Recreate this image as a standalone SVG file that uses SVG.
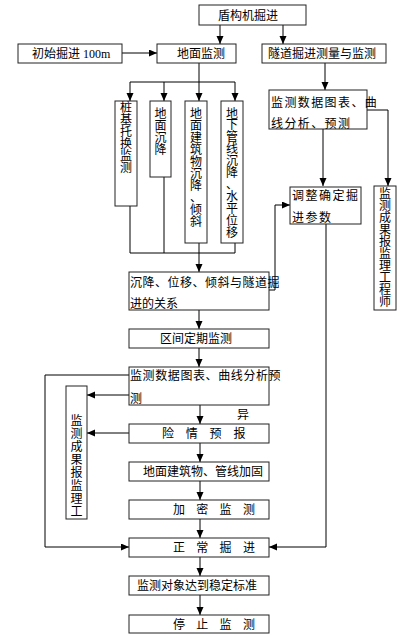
<svg xmlns="http://www.w3.org/2000/svg" width="408" height="642" viewBox="0 0 408 642">
<style>
.box{fill:#fff;stroke:#222;stroke-width:1}
.ln{fill:none;stroke:#000;stroke-width:1}
.arr{marker-end:url(#ah)}
text{font-family:"Liberation Serif","Noto Sans CJK SC",serif;font-size:12px;fill:#000}
.v{text-anchor:middle}
</style>
<defs>
<marker id="ah" markerUnits="userSpaceOnUse" markerWidth="8" markerHeight="8" refX="8" refY="3.5" orient="auto">
<path d="M0,0 L8,3.5 L0,7 z" fill="#000"/>
</marker>
</defs>
<rect width="408" height="642" fill="#fff"/>
<g id="connectors">
<path class="ln arr" d="M220,25 V44"/>
<path class="ln arr" d="M283,25 V44"/>
<path class="ln arr" d="M122,53 H157"/>
<path class="ln" d="M199,63 V82 M130,82 H235"/>
<path class="ln arr" d="M130,82 V101"/>
<path class="ln arr" d="M164,82 V101"/>
<path class="ln arr" d="M199,82 V101"/>
<path class="ln arr" d="M235,82 V101"/>
<path class="ln" d="M130,206 V253 M164,177 V253 M199,243 V253 M235,243 V253 M130,253 H235"/>
<path class="ln arr" d="M199,253 V272"/>
<path class="ln arr" d="M325,63 V90"/>
<path class="ln arr" d="M323,129 V186"/>
<path class="ln arr" d="M367,110 H388 V186"/>
<path class="ln arr" d="M269,290 H275 V205 H290"/>
<path class="ln arr" d="M326,224 V547 H269"/>
<path class="ln arr" d="M199,310 V329"/>
<path class="ln arr" d="M199,348 V367"/>
<path class="ln arr" d="M129,375 H45 V547 H129"/>
<path class="ln arr" d="M129,395 H87"/>
<path class="ln arr" d="M129,433 H87"/>
<path class="ln arr" d="M200,405 V424"/>
<path class="ln arr" d="M200,443 V462"/>
<path class="ln arr" d="M200,481 V500"/>
<path class="ln arr" d="M200,519 V538"/>
<path class="ln arr" d="M200,557 V576"/>
<path class="ln arr" d="M200,595 V615"/>
<text x="237" y="419">异</text>
</g>
<g id="n_dungou"><rect class="box" x="199" y="5" width="107" height="20"/><text x="218" y="19.5">盾构机掘进</text></g>
<g id="n_chushi"><rect class="box" x="18" y="44" width="104" height="19"/><text x="32" y="58">初始掘进 100m</text></g>
<g id="n_dimian"><rect class="box" x="157" y="44" width="79" height="19"/><text x="177" y="58">地面监测</text></g>
<g id="n_suidao"><rect class="box" x="262" y="44" width="124" height="19"/><text x="268" y="58">隧道掘进测量与监测</text></g>
<g id="n_zhuangji"><rect class="box" x="115" y="101" width="22" height="105"/>
<text class="v"><tspan x="126" y="111.5">桩</tspan><tspan x="126" y="123.5">基</tspan><tspan x="126" y="135.5">托</tspan><tspan x="126" y="147.5">换</tspan><tspan x="126" y="159.5">监</tspan><tspan x="126" y="171.5">测</tspan></text></g>
<g id="n_chenjiang"><rect class="box" x="150" y="101" width="21" height="76"/>
<text class="v"><tspan x="160.5" y="117.5">地</tspan><tspan x="160.5" y="129.8">面</tspan><tspan x="160.5" y="142.1">沉</tspan><tspan x="160.5" y="154.4">降</tspan></text></g>
<g id="n_jianzhu"><rect class="box" x="185" y="101" width="22" height="142"/>
<text class="v"><tspan x="196" y="117.5">地</tspan><tspan x="196" y="129.6">面</tspan><tspan x="196" y="141.7">建</tspan><tspan x="196" y="153.8">筑</tspan><tspan x="196" y="165.9">物</tspan><tspan x="196" y="178">沉</tspan><tspan x="196" y="190.1">降</tspan><tspan x="196" y="202.2">、</tspan><tspan x="196" y="214.3">倾</tspan><tspan x="196" y="226.4">斜</tspan></text></g>
<g id="n_guanxian"><rect class="box" x="221" y="101" width="22" height="142"/>
<text class="v"><tspan x="232" y="117.5">地</tspan><tspan x="232" y="129.4">下</tspan><tspan x="232" y="141.3">管</tspan><tspan x="232" y="153.2">线</tspan><tspan x="232" y="165.1">沉</tspan><tspan x="232" y="177">降</tspan><tspan x="232" y="188.9">、</tspan><tspan x="232" y="200.8">水</tspan><tspan x="232" y="212.7">平</tspan><tspan x="232" y="224.6">位</tspan><tspan x="232" y="236.5">移</tspan></text></g>
<g id="n_shuju1"><rect class="box" x="269" y="90" width="98" height="39"/>
<text x="271" y="106.5" letter-spacing="1.4">监测数据图表、曲</text><text x="271" y="127.5" letter-spacing="1.4">线分析、预测</text></g>
<g id="n_tiaozheng"><rect class="box" x="290" y="187" width="71" height="37"/>
<text x="292" y="199.5" letter-spacing="1.5">调整确定掘</text><text x="292" y="222" letter-spacing="1.5">进参数</text></g>
<g id="n_baojianli1"><rect class="box" x="374" y="186" width="22" height="124"/>
<text class="v"><tspan x="385" y="197.5">监</tspan><tspan x="385" y="209.6">测</tspan><tspan x="385" y="221.7">成</tspan><tspan x="385" y="233.8">果</tspan><tspan x="385" y="245.9">报</tspan><tspan x="385" y="258">监</tspan><tspan x="385" y="270.1">理</tspan><tspan x="385" y="282.2">工</tspan><tspan x="385" y="294.3">程</tspan><tspan x="385" y="306.4">师</tspan></text></g>
<g id="n_guanxi"><rect class="box" x="129" y="272" width="140" height="38"/>
<text x="130" y="286.5" letter-spacing="0.5">沉降、位移、倾斜与隧道掘</text><text x="130" y="307.5">进的关系</text></g>
<g id="n_qujian"><rect class="box" x="129" y="329" width="140" height="19"/><text x="160" y="343">区间定期监测</text></g>
<g id="n_shuju2"><rect class="box" x="129" y="367" width="140" height="38"/>
<text x="130" y="379.5" letter-spacing="0.6">监测数据图表、曲线分析预</text><text x="130" y="402.5">测</text></g>
<g id="n_baojianli2"><rect class="box" x="66" y="386" width="21" height="133"/>
<text class="v"><tspan x="76.5" y="424.5">监</tspan><tspan x="76.5" y="437.6">测</tspan><tspan x="76.5" y="450.7">成</tspan><tspan x="76.5" y="463.8">果</tspan><tspan x="76.5" y="476.9">报</tspan><tspan x="76.5" y="490">监</tspan><tspan x="76.5" y="503.1">理</tspan><tspan x="76.5" y="516.2">工</tspan></text></g>
<g id="n_xianqing"><rect class="box" x="129" y="424" width="140" height="19"/><text x="162" y="438" letter-spacing="11.8">险情预报</text></g>
<g id="n_jiagu"><rect class="box" x="129" y="462" width="140" height="19"/><text x="143" y="476">地面建筑物、管线加固</text></g>
<g id="n_jiami"><rect class="box" x="129" y="500" width="140" height="19"/><text x="173" y="514" letter-spacing="11.3">加密监测</text></g>
<g id="n_zhengchang"><rect class="box" x="129" y="538" width="140" height="19"/><text x="173" y="552" letter-spacing="11.3">正常掘进</text></g>
<g id="n_wending"><rect class="box" x="129" y="576" width="140" height="19"/><text x="137" y="590">监测对象达到稳定标准</text></g>
<g id="n_tingzhi"><rect class="box" x="129" y="615" width="140" height="18"/><text x="173" y="628.5" letter-spacing="11.3">停止监测</text></g>
</svg>
